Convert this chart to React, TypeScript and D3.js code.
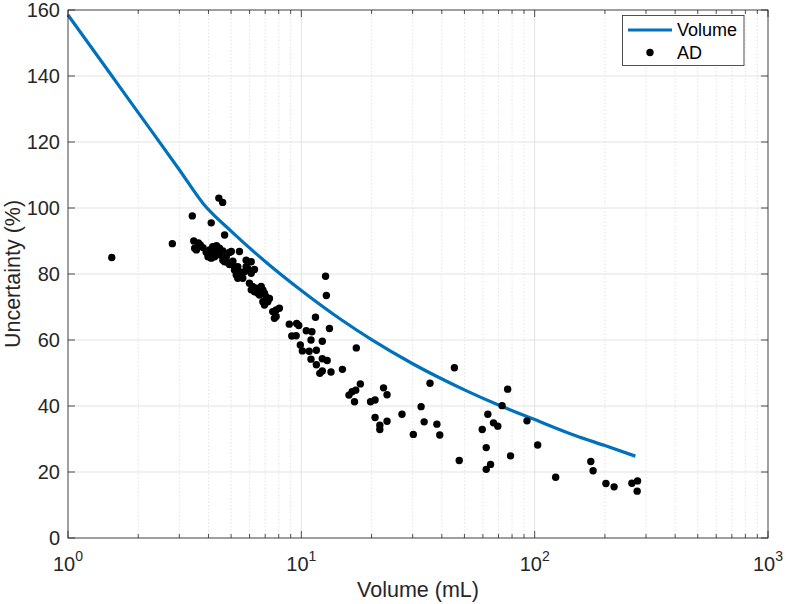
import React from 'react';
import * as d3 from 'd3';

// volume model curve
const curveVolume = [1, 1.5, 2, 3, 3.8, 5, 7, 10, 15, 20, 30, 50, 70, 100, 150, 200, 270];
const curveUncertainty = [158.5, 141.2, 128.9, 111.6, 101.3, 93, 83.8, 75, 65.9, 60.1, 52.8, 44.9, 40.3, 35.9, 31, 28, 24.8];

// AD measurements
const adVolume = [
  1.54, 2.8, 3.41, 4.43, 4.6, 4.11, 4.69, 3.46, 3.62, 3.69, 3.49, 3.55, 3.79, 4.17, 4.33, 4.46, 4.4, 4.17,
  4.04, 3.98, 4.11, 4.25, 4.46, 4.61, 4.04, 4.25, 3.91, 5.01, 5.43, 4.77, 4.61, 4.84, 4.92, 5.09, 5.17, 5.34,
  5.17, 5.43, 5.26, 5.52, 5.34, 5.61, 5.9, 6.1, 5.99, 6.19, 6.3, 6.51, 5.8, 6.1, 5.8, 6.3, 5.71, 6.1, 6.4,
  6.73, 6.84, 6.62, 6.95, 7.06, 6.84, 7.18, 7.3, 6.95, 7.54, 7.8, 8.05, 7.8, 7.67, 8.88, 9.55, 9.1, 9.5, 10.5,
  11.1, 11.0, 12.3, 11.5, 12.7, 12.8, 13.2, 9.9, 10.1, 10.8, 11.6, 11.0, 11.6, 12.3, 12.9, 12.0, 12.3, 13.4,
  15.0, 17.2, 17.9, 16.5, 16.0, 17.1, 16.9, 19.8, 20.7, 20.7, 22.5, 23.3, 23.3, 21.7, 21.7, 27.0, 32.6, 33.6,
  30.2, 38.1, 39.2, 35.6, 45.3, 47.5, 59.6, 63.0, 66.6, 69.5, 62.0, 64.7, 62.0, 72.5, 76.6, 78.8, 92.7, 103,
  123, 174, 178, 202, 219, 261, 276, 275, 4.92, 4.69, 9.75,
];
const adUncertainty = [
  85.0, 89.2, 97.6, 103.0, 101.7, 95.5, 91.8, 90.0, 89.4, 88.8, 87.8, 87.3, 88.0, 88.3, 88.6, 87.8, 86.8, 86.8,
  86.3, 85.2, 84.8, 85.2, 85.8, 87.0, 87.3, 86.0, 86.6, 86.8, 86.8, 85.2, 84.2, 83.5, 82.9, 83.9, 82.2, 82.2,
  81.2, 80.7, 79.7, 79.2, 78.7, 78.7, 81.7, 80.2, 77.2, 76.2, 74.6, 74.2, 84.2, 83.7, 82.2, 81.4, 80.7, 75.2, 75.7,
  76.2, 75.2, 73.6, 74.2, 73.1, 71.6, 71.6, 72.6, 70.6, 68.6, 69.1, 69.6, 67.1, 66.6, 64.8, 65.0, 61.2, 61.3, 62.8,
  62.5, 60.0, 59.6, 66.9, 79.3, 73.5, 63.5, 58.5, 56.7, 56.6, 56.9, 54.2, 52.5, 54.3, 53.8, 49.9, 50.6, 50.3,
  51.1, 57.6, 46.7, 44.3, 43.3, 44.8, 41.3, 41.3, 41.8, 36.5, 45.5, 43.4, 35.4, 34.2, 32.9, 37.5, 39.8, 35.2,
  31.4, 34.5, 31.2, 46.9, 51.6, 23.5, 32.9, 37.5, 34.9, 33.9, 27.4, 22.3, 20.8, 40.1, 45.1, 24.9, 35.5, 28.2,
  18.4, 23.2, 20.4, 16.5, 15.5, 16.6, 17.3, 14.2, 86.5, 83.7, 64.4,
];

const yTicks = [0, 20, 40, 60, 80, 100, 120, 140, 160];
const xDecades = [0, 1, 2, 3];

const W = 787;
const H = 604;
const margin = { top: 10, right: 19, bottom: 66, left: 68 };
const axisColor = '#262626';
const font = '"Liberation Sans", Arial, Helvetica, sans-serif';

export default function App() {
  const x = d3.scaleLog().domain([1, 1000]).range([margin.left, W - margin.right]);
  const y = d3.scaleLinear().domain([0, 160]).range([H - margin.bottom, margin.top]);
  const x0 = x.range()[0];
  const x1 = x.range()[1];
  const y0 = y.range()[0];
  const y1 = y.range()[1];

  const majorX = xDecades.map((d) => Math.pow(10, d));
  const minorX: number[] = [];
  for (let d = 0; d < 3; d++) {
    for (let k = 2; k <= 9; k++) minorX.push(k * Math.pow(10, d));
  }

  const line = d3
    .line<number>()
    .x((_, i) => x(curveVolume[i]))
    .y((d) => y(d))
    .curve(d3.curveMonotoneX);

  return (
    <svg
      width={W}
      height={H}
      style={{ position: 'absolute', left: 0, top: 0, background: '#fff' }}
      fontFamily={font}
    >
      {/* minor x grid */}
      {minorX.map((v) => (
        <line key={'mg' + v} x1={x(v)} x2={x(v)} y1={y0} y2={y1} stroke="#dcdcdc" strokeWidth={0.8} strokeDasharray="1.5 2" />
      ))}
      {/* major grid */}
      {majorX.map((v) => (
        <line key={'gx' + v} x1={x(v)} x2={x(v)} y1={y0} y2={y1} stroke="#e3e3e3" strokeWidth={1} />
      ))}
      {yTicks.map((v) => (
        <line key={'gy' + v} x1={x0} x2={x1} y1={y(v)} y2={y(v)} stroke="#e3e3e3" strokeWidth={1} />
      ))}

      {/* data */}
      <path d={line(curveUncertainty) || ''} fill="none" stroke="#0072BD" strokeWidth={3.2} />
      {adVolume.map((v, i) => (
        <circle key={'p' + i} cx={x(v)} cy={y(adUncertainty[i])} r={3.7} fill="#000" />
      ))}

      {/* box */}
      <rect x={x0} y={y1} width={x1 - x0} height={y0 - y1} fill="none" stroke={axisColor} strokeWidth={0.8} />

      {/* ticks */}
      {majorX.map((v) => (
        <g key={'tx' + v}>
          <line x1={x(v)} x2={x(v)} y1={y0} y2={y0 - 7} stroke={axisColor} strokeWidth={0.8} />
          <line x1={x(v)} x2={x(v)} y1={y1} y2={y1 + 7} stroke={axisColor} strokeWidth={0.8} />
        </g>
      ))}
      {minorX.map((v) => (
        <g key={'mtx' + v}>
          <line x1={x(v)} x2={x(v)} y1={y0} y2={y0 - 4} stroke={axisColor} strokeWidth={0.8} />
          <line x1={x(v)} x2={x(v)} y1={y1} y2={y1 + 4} stroke={axisColor} strokeWidth={0.8} />
        </g>
      ))}
      {yTicks.map((v) => (
        <g key={'ty' + v}>
          <line x1={x0} x2={x0 + 7} y1={y(v)} y2={y(v)} stroke={axisColor} strokeWidth={0.8} />
          <line x1={x1} x2={x1 - 7} y1={y(v)} y2={y(v)} stroke={axisColor} strokeWidth={0.8} />
        </g>
      ))}

      {/* tick labels */}
      {yTicks.map((v) => (
        <text key={'ly' + v} x={x0 - 8} y={y(v)} dy="0.36em" textAnchor="end" fontSize={20} fill={axisColor}>
          {v}
        </text>
      ))}
      {xDecades.map((d) => (
        <text key={'lx' + d} x={x(Math.pow(10, d))} y={y0 + 33} textAnchor="middle" fontSize={20} fill={axisColor}>
          10
          <tspan fontSize={14} dy={-10}>
            {d}
          </tspan>
        </text>
      ))}

      {/* axis labels */}
      <text x={(x0 + x1) / 2} y={H - 7} textAnchor="middle" fontSize={21.5} fill={axisColor}>
        Volume (mL)
      </text>
      <text
        transform={`translate(20, ${(y0 + y1) / 2}) rotate(-90)`}
        textAnchor="middle"
        fontSize={21.5}
        fill={axisColor}
      >
        Uncertainty (%)
      </text>

      {/* legend */}
      <g>
        <rect x={622.5} y={15.5} width={121.5} height={50} fill="#fff" stroke={axisColor} strokeWidth={0.8} />
        <line x1={628} x2={672} y1={30} y2={30} stroke="#0072BD" strokeWidth={3.2} />
        <text x={677} y={30} dy="0.36em" fontSize={18} fill="#000">
          Volume
        </text>
        <circle cx={650} cy={52.5} r={3.7} fill="#000" />
        <text x={677} y={52.5} dy="0.36em" fontSize={18} fill="#000">
          AD
        </text>
      </g>
    </svg>
  );
}
